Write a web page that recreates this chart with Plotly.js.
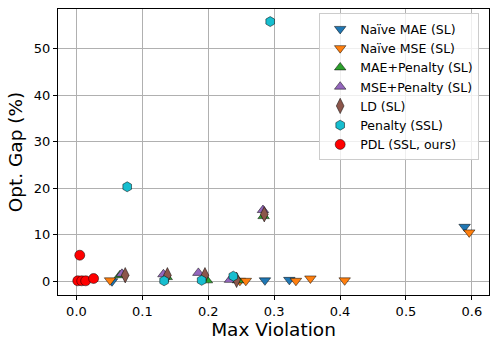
<!DOCTYPE html>
<html>
<head>
<meta charset="utf-8">
<script src="https://cdn.plot.ly/plotly-3.0.1.min.js"></script>
<style>
  body { margin: 0; background: #fff; }
  #myPlot { width: 498px; height: 349px; }
</style>
</head>
<body>
<div id="myPlot"></div>
<script>
// values
let maeX = [0.054, 0.286, 0.323, 0.589];
let maeY = [0.0, 0.2, 0.3, 11.7];
let mseX = [0.051, 0.248, 0.257, 0.333, 0.355, 0.407, 0.596];
let mseY = [0.2, 0.1, 0.1, 0.1, 0.6, 0.2, 10.5];
let maePenX = [0.066, 0.137, 0.198, 0.245, 0.284];
let maePenY = [1.3, 0.9, 0.2, 0.2, 14.0];
let msePenX = [0.069, 0.132, 0.185, 0.233, 0.283];
let msePenY = [1.6, 1.5, 1.8, 0.3, 15.3];
let ldX = [0.074, 0.138, 0.195, 0.243, 0.285];
let ldY = [1.3, 1.3, 1.3, 0.3, 14.4];
let penX = [0.077, 0.133, 0.190, 0.238, 0.294];
let penY = [20.3, 0.1, 0.2, 1.1, 55.8];
let pdlX = [0.002, 0.005, 0.008, 0.014, 0.026];
let pdlY = [0.1, 5.6, 0.1, 0.1, 0.6];

let names = ['Naïve MAE (SL)', 'Naïve MSE (SL)', 'MAE+Penalty (SL)', 'MSE+Penalty (SL)', 'LD (SL)', 'Penalty (SSL)', 'PDL (SSL, ours)'];
let colors = ['#1f77b4', '#ff7f0e', '#2ca02c', '#9467bd', '#8c564b', '#17becf', '#ff0000'];
let symbols = ['triangle-down', 'triangle-down', 'triangle-up', 'triangle-up', 'diamond-tall', 'hexagon', 'circle'];
let sizes = [10, 10, 10, 10, 11, 10, 10];
let xs = [maeX, mseX, maePenX, msePenX, ldX, penX, pdlX];
let ys = [maeY, mseY, maePenY, msePenY, ldY, penY, pdlY];

var data = [];
for (let i = 0; i < names.length; i++) {
    data.push({
        x: xs[i],
        y: ys[i],
        name: names[i],
        mode: 'markers',
        type: 'scatter',
        marker: {symbol: symbols[i], color: colors[i], size: sizes[i],
                 line: {color: '#000', width: 0.5}}
    });
}

var axisCommon = {
    showgrid: true, gridcolor: '#b0b0b0', gridwidth: 1,
    zeroline: false, showline: true, linecolor: '#000', linewidth: 1, mirror: true,
    ticks: 'outside', ticklen: 4, tickcolor: '#000',
    tickfont: {family: 'DejaVu Sans', size: 13, color: '#000'}
};

var layout = {
    width: 498, height: 349,
    margin: {l: 58, r: 9, t: 9, b: 54},
    paper_bgcolor: '#fff', plot_bgcolor: '#fff',
    font: {family: 'DejaVu Sans', color: '#000'},
    xaxis: Object.assign({}, axisCommon, {
        range: [-0.028, 0.626], dtick: 0.1, tick0: 0, tickformat: '.1f',
        title: {text: 'Max Violation', font: {size: 18.5}, standoff: 4}
    }),
    yaxis: Object.assign({}, axisCommon, {
        range: [-2.95, 58.5], dtick: 10, tick0: 0,
        title: {text: 'Opt. Gap (%)', font: {size: 18.5}, standoff: 6}
    }),
    showlegend: true,
    legend: {
        x: 0.606, y: 0.985, xanchor: 'left', yanchor: 'top',
        bgcolor: 'rgba(255,255,255,0.8)', bordercolor: '#cccccc', borderwidth: 1,
        font: {family: 'DejaVu Sans', size: 12.5, color: '#000'},
        itemwidth: 30
    }
};

Plotly.newPlot('myPlot', data, layout, {displayModeBar: false, staticPlot: true});
</script>
</body>
</html>
